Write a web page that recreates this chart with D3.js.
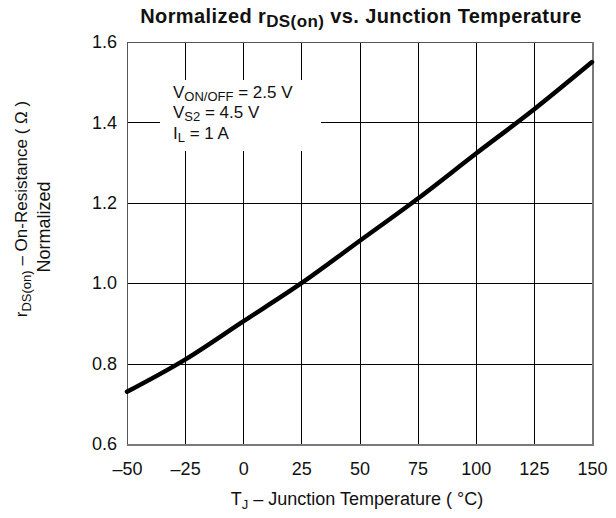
<!DOCTYPE html>
<html>
<head>
<meta charset="utf-8">
<script src="https://cdn.jsdelivr.net/npm/d3@7"></script>
<style>
  html, body { margin: 0; padding: 0; background: #fff; }
  svg { display: block; font-family: "Liberation Sans", Arial, sans-serif; }
</style>
</head>
<body>
<svg id="chart" width="616" height="518"></svg>
<script>
// Data
const temperatures = [-50, -25, 0, 25, 50, 75, 100, 125, 150];
const rdsNormalized = [0.73, 0.81, 0.905, 1.0, 1.105, 1.21, 1.322, 1.432, 1.55];
const xTicks = [-50, -25, 0, 25, 50, 75, 100, 125, 150];
const yTicks = [0.6, 0.8, 1.0, 1.2, 1.4, 1.6];

const svg = d3.select("#chart");
const plot = { left: 127, right: 592, top: 42, bottom: 444 };
const FONT = "Liberation Sans, Arial, sans-serif";

const x = d3.scaleLinear().domain([-50, 150]).range([plot.left, plot.right]);
const y = d3.scaleLinear().domain([0.6, 1.6]).range([plot.bottom, plot.top]);

// Grid lines
const grid = svg.append("g");
grid.selectAll("line.v").data(xTicks.slice(1, -1)).join("line")
  .attr("x1", d => Math.round(x(d)) + 0.5).attr("x2", d => Math.round(x(d)) + 0.5)
  .attr("y1", plot.top).attr("y2", plot.bottom)
  .attr("stroke", "#000").attr("stroke-width", 1);
grid.selectAll("line.h").data(yTicks.slice(1, -1)).join("line")
  .attr("y1", d => Math.round(y(d)) + 0.5).attr("y2", d => Math.round(y(d)) + 0.5)
  .attr("x1", plot.left).attr("x2", plot.right)
  .attr("stroke", "#000").attr("stroke-width", 1);

// Frame
svg.append("rect")
  .attr("x", plot.left + 0.5).attr("y", plot.top + 0.5)
  .attr("width", plot.right - plot.left).attr("height", plot.bottom - plot.top)
  .attr("fill", "none").attr("stroke", "#555").attr("stroke-width", 1);
svg.append("path")
  .attr("d", `M${plot.left},${plot.bottom + 1} H${plot.right + 1} V${plot.top}`)
  .attr("fill", "none").attr("stroke", "#7a7a7a").attr("stroke-width", 2);

// Axes (labels only)
const xAxis = d3.axisBottom(x).tickValues(xTicks).tickSize(0).tickPadding(0)
  .tickFormat(d => d < 0 ? "\u2013" + Math.abs(d) : String(d));
const gx = svg.append("g").attr("transform", `translate(0,${plot.bottom + 18})`).call(xAxis);
gx.select(".domain").remove();
gx.selectAll("text").attr("font-size", 18).attr("fill", "#111")
  .attr("font-family", FONT).attr("dy", "0.71em");

const yAxis = d3.axisLeft(y).tickValues(yTicks).tickSize(0).tickPadding(10)
  .tickFormat(d3.format(".1f"));
const gy = svg.append("g").attr("transform", `translate(${plot.left},0)`).call(yAxis);
gy.select(".domain").remove();
gy.selectAll("text").attr("font-size", 18).attr("fill", "#111")
  .attr("font-family", FONT);

// Curve
const line = d3.line()
  .x((d, i) => x(temperatures[i]))
  .y(d => y(d))
  .curve(d3.curveMonotoneX);
svg.append("path").datum(rdsNormalized)
  .attr("d", line).attr("fill", "none").attr("stroke", "#000")
  .attr("stroke-width", 4.5).attr("stroke-linecap", "round");

// Annotation box
svg.append("rect").attr("x", 160).attr("y", 80).attr("width", 161).attr("height", 71)
  .attr("fill", "#fff");
const ann = svg.append("g").attr("font-size", 17).attr("fill", "#111");
const t1 = ann.append("text").attr("x", 173).attr("y", 98);
t1.append("tspan").text("V");
t1.append("tspan").attr("dy", 3).attr("font-size", 13).text("ON/OFF");
t1.append("tspan").attr("dy", -3).text(" = 2.5 V");
const t2 = ann.append("text").attr("x", 173).attr("y", 118);
t2.append("tspan").text("V");
t2.append("tspan").attr("dy", 3).attr("font-size", 13).text("S2");
t2.append("tspan").attr("dy", -3).text(" = 4.5 V");
const t3 = ann.append("text").attr("x", 173).attr("y", 139);
t3.append("tspan").text("I");
t3.append("tspan").attr("dy", 3).attr("font-size", 13).text("L");
t3.append("tspan").attr("dy", -3).text(" = 1 A");

// Title
const title = svg.append("text").attr("x", 361).attr("y", 23)
  .attr("text-anchor", "middle").attr("font-size", 20).attr("font-weight", "bold")
  .attr("letter-spacing", 0.4).attr("fill", "#111");
title.append("tspan").text("Normalized r");
title.append("tspan").attr("dy", 4).attr("font-size", 17).text("DS(on)");
title.append("tspan").attr("dy", -4).text(" vs. Junction Temperature");

// X axis title
const xt = svg.append("text").attr("x", 357).attr("y", 505)
  .attr("text-anchor", "middle").attr("font-size", 18).attr("fill", "#111");
xt.append("tspan").text("T");
xt.append("tspan").attr("dy", 4).attr("font-size", 13).text("J");
xt.append("tspan").attr("dy", -4).text(" \u2013 Junction Temperature ( \u00B0C)");

// Y axis title
const yt1 = svg.append("text").attr("transform", "translate(27,209) rotate(-90)")
  .attr("text-anchor", "middle").attr("font-size", 17).attr("fill", "#111");
yt1.append("tspan").text("r");
yt1.append("tspan").attr("dy", 4).attr("font-size", 13).text("DS(on)");
yt1.append("tspan").attr("dy", -4).text(" \u2013  On-Resistance ( \u03A9 )");
svg.append("text").attr("transform", "translate(50,227) rotate(-90)")
  .attr("text-anchor", "middle").attr("font-size", 18).attr("fill", "#111")
  .text("Normalized");
</script>
</body>
</html>
